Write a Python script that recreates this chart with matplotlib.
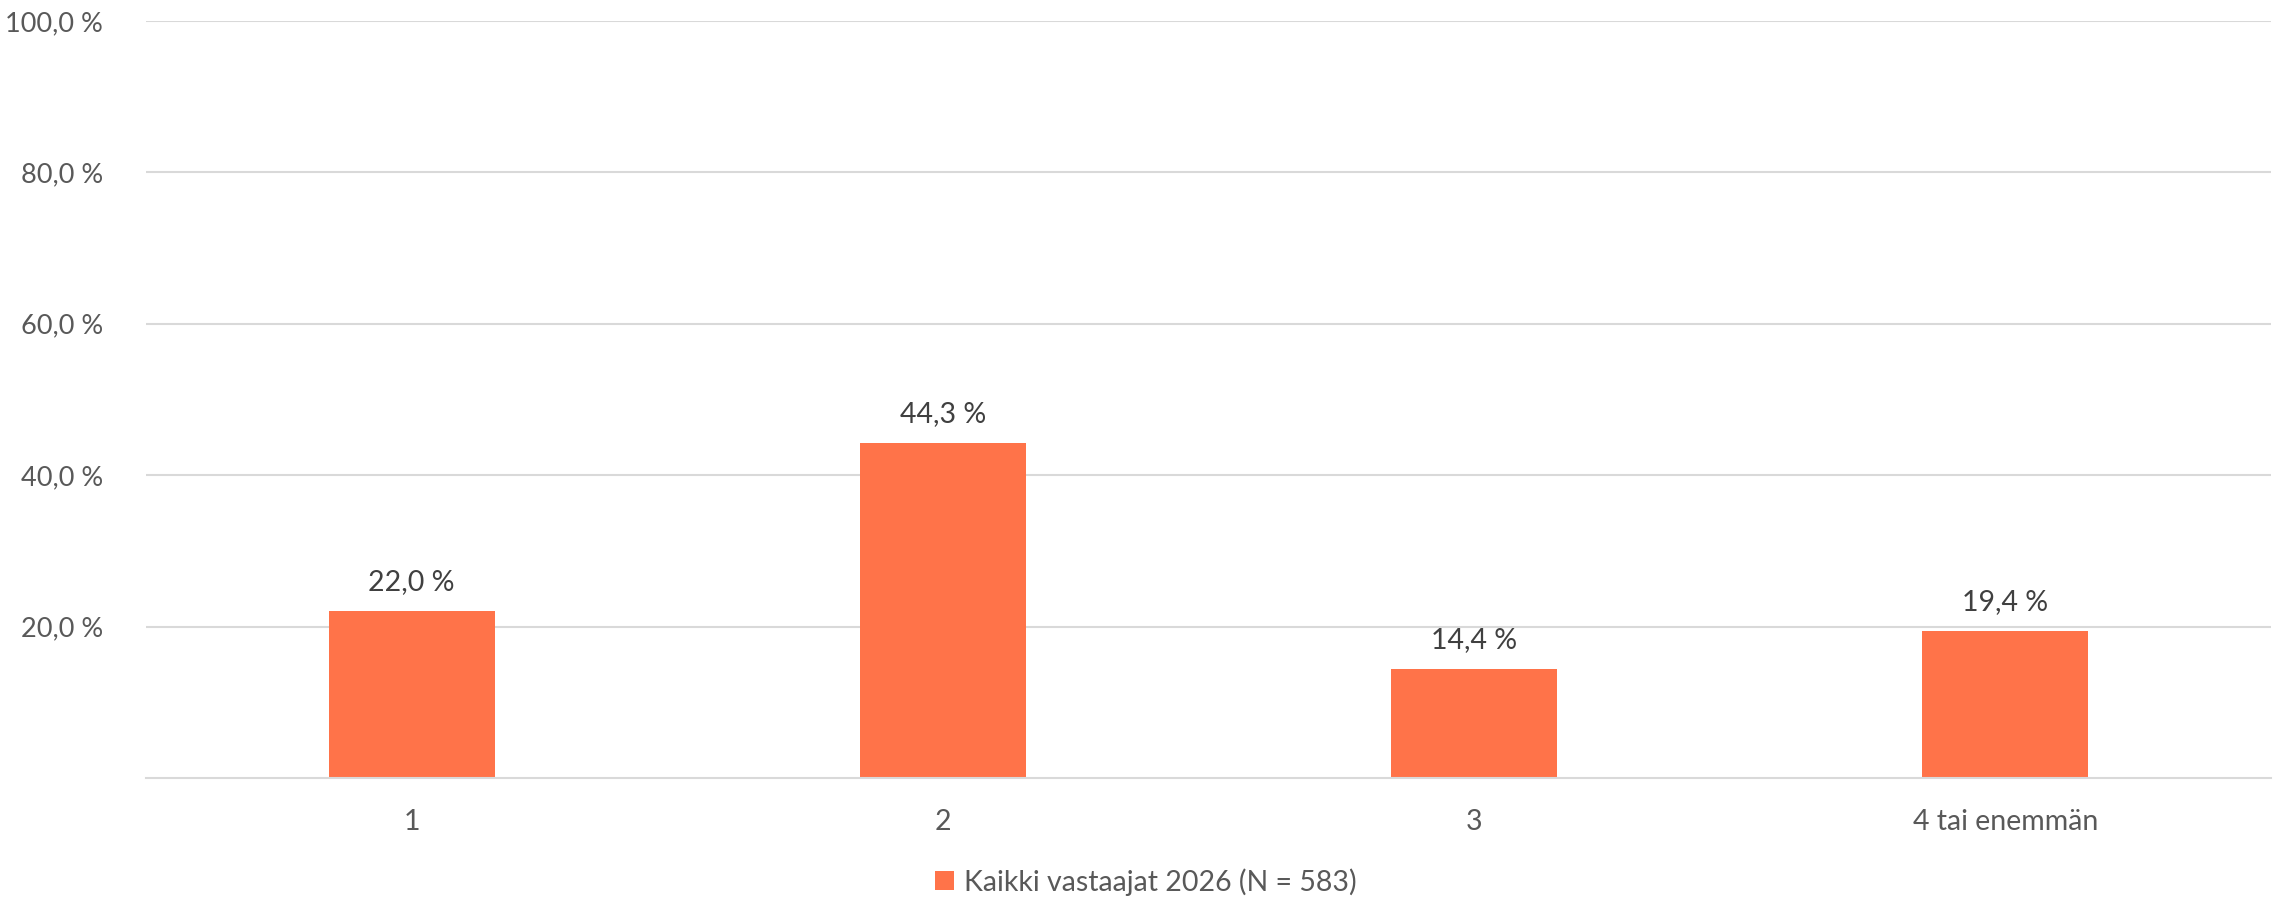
import matplotlib
matplotlib.use("Agg")
import matplotlib.pyplot as plt
from matplotlib.patches import Patch

categories = ["1", "2", "3", "4 tai enemmän"]
values = [22.0, 44.3, 14.4, 19.4]
yticks = [20, 40, 60, 80, 100]
series_name = "Kaikki vastaajat 2026 (N = 583)"

plt.rcParams['font.family'] = ['Lato', 'DejaVu Sans']

W, H = 2280, 899
fig = plt.figure(figsize=(W / 100, H / 100), dpi=100)
ax = fig.add_axes([146 / W, (H - 778) / H, 2125 / W, (778 - 21) / H])

bar_color = "#FF7349"
x = list(range(len(categories)))
bars = ax.bar(x, values, width=0.3125, color=bar_color, zorder=3)

ax.set_xlim(-0.5, len(categories) - 0.5)
ax.set_ylim(0, 100)
ax.set_yticks(yticks)
ax.set_yticklabels([f"{v:.1f}".replace(".", ",") + " %" for v in yticks])
ax.set_xticks(x)
ax.set_xticklabels(categories)

for s in ["top", "right", "left"]:
    ax.spines[s].set_visible(False)
ax.spines["bottom"].set_color("#D9D9D9")
ax.spines["bottom"].set_linewidth(1.5)
ax.spines["bottom"].set_zorder(4)

ax.yaxis.grid(True, color="#D9D9D9", linewidth=1.5, zorder=0)
ax.set_axisbelow(True)
ax.tick_params(axis="both", length=0, labelsize=20.5, labelcolor="#595959")
ax.tick_params(axis="y", pad=31, labelsize=19.5)
ax.tick_params(axis="x", pad=22)

for b, v in zip(bars, values):
    ax.annotate(f"{v:.1f}".replace(".", ",") + " %",
                (b.get_x() + b.get_width() / 2, v),
                xytext=(0, 16), textcoords="offset pixels",
                ha="center", va="bottom", fontsize=20.5, color="#404040")

handle = Patch(facecolor=bar_color, edgecolor="none")
fig.legend([handle], [series_name], loc="center",
           bbox_to_anchor=(1146 / W, 1 - 882 / H), frameon=False,
           fontsize=20.5, labelcolor="#595959",
           handlelength=0.65, handleheight=0.65, handletextpad=0.35)

fig.savefig("out.png", dpi=100)
